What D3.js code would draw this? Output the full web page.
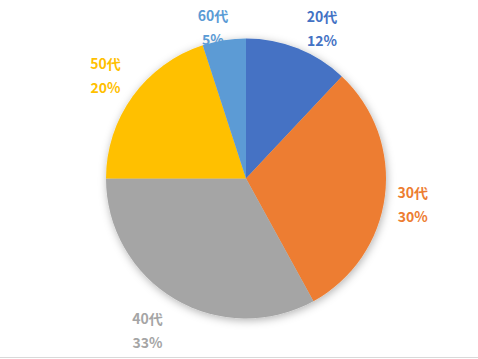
<!DOCTYPE html>
<html>
<head>
<meta charset="utf-8">
<script src="https://cdn.jsdelivr.net/npm/d3@7"></script>
<style>
  html, body { margin: 0; padding: 0; background: #fff; }
  svg { display: block; }
</style>
</head>
<body>
<script>
const categories = ["20代", "30代", "40代", "50代", "60代"];
const values = [12, 30, 33, 20, 5];
const percentLabels = ["12%", "30%", "33%", "20%", "5%"];

// layout / style (kept separate from data)
const colors = ["#4472C4", "#ED7D31", "#A5A5A5", "#FFC000", "#5B9BD5"];
const labelNudge = [[17, 0], [8, 7], [-17, 16], [-11, -7], [-8, 9]];

const W = 478, H = 359;
const cx = 246, cy = 178.5, R = 140, labelR = 160;

const svg = d3.select("body").append("svg").attr("width", W).attr("height", H);

const defs = svg.append("defs");
const f = defs.append("filter").attr("id", "shadow")
  .attr("x", "-20%").attr("y", "-20%").attr("width", "140%").attr("height", "140%");
f.append("feDropShadow").attr("dx", 1).attr("dy", 2).attr("stdDeviation", 4)
  .attr("flood-color", "#000").attr("flood-opacity", 0.3);

const pie = d3.pie().sort(null).value(d => d)(values);
const arc = d3.arc().innerRadius(0).outerRadius(R);

const g = svg.append("g").attr("transform", `translate(${cx},${cy})`);
g.append("g").attr("filter", "url(#shadow)")
  .selectAll("path").data(pie).join("path")
  .attr("d", arc)
  .attr("fill", (d, i) => colors[i]);

const labels = svg.append("g")
  .attr("font-family", "'Noto Sans CJK JP', 'Noto Sans', sans-serif")
  .attr("font-weight", "bold").attr("font-size", 14)
  .attr("text-anchor", "middle");

pie.forEach((d, i) => {
  const a = (d.startAngle + d.endAngle) / 2;
  const x = cx + labelR * Math.sin(a) + labelNudge[i][0];
  const y = cy - labelR * Math.cos(a) + labelNudge[i][1];
  labels.append("text").attr("x", x).attr("y", y - 8).attr("fill", colors[i]).text(categories[i]);
  labels.append("text").attr("x", x).attr("y", y + 16).attr("fill", colors[i]).text(percentLabels[i]);
});

svg.append("line").attr("x1", 0).attr("x2", W).attr("y1", 357.5).attr("y2", 357.5)
  .attr("stroke", "#d9d9d9").attr("stroke-width", 1);
</script>
</body>
</html>
